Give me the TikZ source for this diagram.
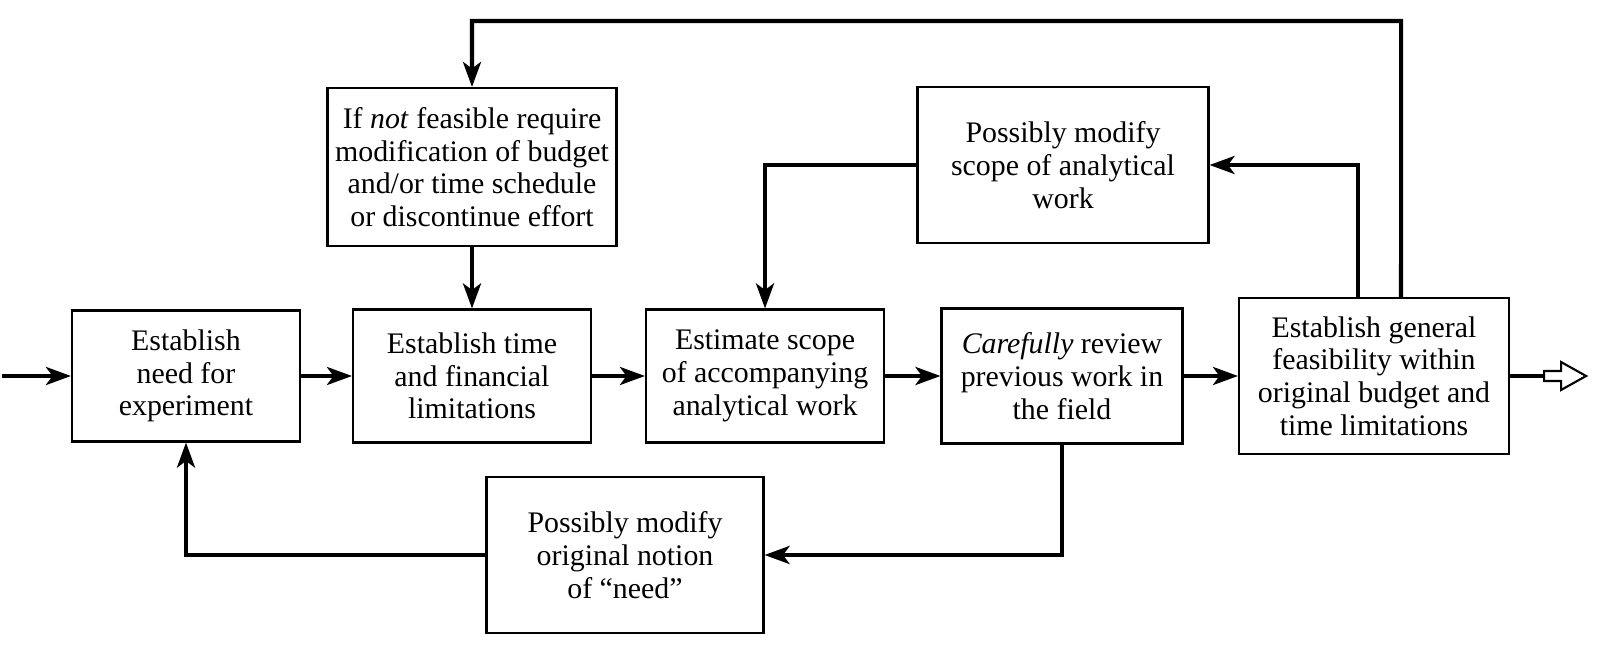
\documentclass[tikz,border=0pt]{standalone}
\usepackage{fontspec}
\setmainfont{Liberation Serif}
\usetikzlibrary{arrows.meta}
\tikzset{
	box/.style={draw, line width=1.2pt, align=center, inner sep=0pt, font=\fontsize{17}{18.6}\selectfont},
	flow/.style={line width=2.3pt, -{Stealth[length=5mm,width=3.6mm,inset=1.3mm]}},
}
\begin{document}
\begin{tikzpicture}[x=0.02cm,y=-0.02cm]
			\useasboundingbox (0,0) rectangle (1604,668); % frame of the reference
			
			% main row, left to right
			\node[box, minimum width=4.56cm, minimum height=2.62cm] (need)   at (186,376)  {Establish\\need for\\experiment}; % box 1
			\node[box, minimum width=4.76cm, minimum height=2.66cm] (limits) at (472,376)  {Establish time\\and financial\\limitations}; % box 2
			\node[box, minimum width=4.76cm, minimum height=2.66cm] (scope)  at (765,376)  {Estimate scope\\of accompanying\\analytical work}; % box 3
			\node[box, minimum width=4.82cm, minimum height=2.70cm] (review) at (1062,376) {\emph{Carefully} review\\previous work in\\the field}; % box 4
			\node[box, minimum width=5.40cm, minimum height=3.12cm] (feas)   at (1374,376) {Establish general\\feasibility within\\original budget and\\time limitations}; % box 5
			
			% feedback boxes
			\node[box, minimum width=5.78cm, minimum height=3.16cm] (ifnot)    at (472,167)  {If \emph{not} feasible require\\modification of budget\\and/or time schedule\\or discontinue effort};
			\node[box, minimum width=5.82cm, minimum height=3.12cm] (modscope) at (1063,165) {Possibly modify\\scope of analytical\\work};
			\node[box, minimum width=5.54cm, minimum height=3.12cm] (modneed)  at (625,555)  {Possibly modify\\original notion\\of ``need''};
			
			\coordinate (in)  at (2,376);    % start of input
			\coordinate (top) at (1401,21);  % corner of top loop
			
			\draw[flow] (in) -- (need);
			\draw[flow] (need) -- (limits);
			\draw[flow] (limits) -- (scope);
			\draw[flow] (scope) -- (review);
			\draw[flow] (review) -- (feas);
			
			% loops
			\draw[flow] ([xshift=0.54cm]feas.north) -- (top) -| (ifnot.north);
			\draw[flow] (ifnot) -- (limits);
			\draw[flow] ([xshift=-0.32cm]feas.north) |- (modscope.east);
			\draw[flow] (modscope.west) -| (scope.north);
			\draw[flow] (review.south) |- (modneed.east);
			\draw[flow] (modneed.west) -| (need.south);
			
			% open output arrow
			\draw[line width=2.3pt] (feas.east) -- ++(34,0) coordinate (tip);
			\draw[line width=1.2pt, fill=white] (tip) ++(0,-5) -- ++(17,0) -- ++(0,-9) -- ++(25,14) -- ++(-25,14) -- ++(0,-9) -- ++(-17,0) -- cycle;
			
\end{tikzpicture}
\end{document}
